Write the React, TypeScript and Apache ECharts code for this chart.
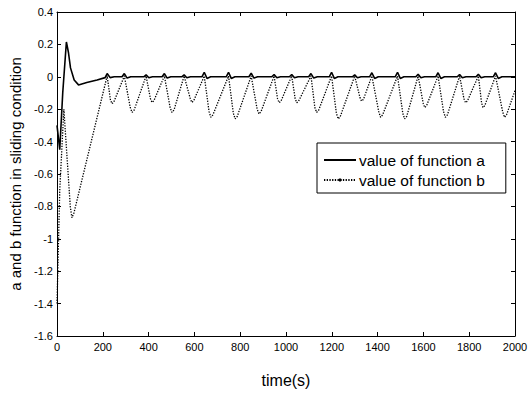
import React, { useEffect, useRef } from "react";
import * as echarts from "echarts";

const xTicks = [0, 200, 400, 600, 800, 1000, 1200, 1400, 1600, 1800, 2000];
const yTickLabels = ["-1.6", "-1.4", "-1.2", "-1", "-0.8", "-0.6", "-0.4", "-0.2", "0", "0.2", "0.4"];

const seriesNames = ["value of function a", "value of function b"];

const aTime = [
  0, 12, 25, 41, 50, 59, 75, 94, 130, 175, 210, 219, 232, 250,
  284, 294, 306, 322,
  379, 389, 401, 417,
  459, 469, 481, 497,
  545, 555, 567, 583,
  633, 643, 655, 671,
  739, 749, 761, 777,
  838, 848, 860, 876,
  938, 948, 960, 976,
  1015, 1025, 1037, 1053,
  1099, 1109, 1121, 1137,
  1189, 1199, 1211, 1227,
  1290, 1300, 1312, 1328,
  1365, 1375, 1387, 1403,
  1477, 1487, 1499, 1515,
  1567, 1577, 1589, 1605,
  1654, 1664, 1676, 1692,
  1748, 1758, 1770, 1786,
  1830, 1840, 1852, 1868,
  1905, 1915, 1927, 1943,
  2000,
];
const aVal = [
  -0.3, -0.45, -0.1, 0.215, 0.15, 0.055, -0.02, -0.05, -0.035, -0.02, -0.005, 0.02, -0.005, 0,
  0, 0.02, -0.008, 0,
  0, 0.012, -0.006, 0,
  0, 0.02, -0.008, 0,
  0, 0.012, -0.006, 0,
  0, 0.028, -0.01, 0,
  0, 0.028, -0.01, 0,
  0, 0.022, -0.008, 0,
  0, 0.014, -0.006, 0,
  0, 0.014, -0.006, 0,
  0, 0.02, -0.008, 0,
  0, 0.028, -0.01, 0,
  0, 0.012, -0.006, 0,
  0, 0.025, -0.01, 0,
  0, 0.028, -0.01, 0,
  0, 0.016, -0.006, 0,
  0, 0.025, -0.01, 0,
  0, 0.014, -0.006, 0,
  0, 0.016, -0.006, 0,
  0, 0.025, -0.01, 0,
  0,
];

const bTime = [
  0, 12, 30, 58, 65, 74,
  219, 233, 240, 248,
  294, 320, 328, 337,
  389, 408, 415, 423,
  469, 494, 502, 511,
  555, 582, 589, 597,
  643, 664, 672, 681,
  749, 770, 778, 787,
  848, 874, 882, 891,
  948, 963, 970, 978,
  1025, 1040, 1047, 1055,
  1109, 1126, 1134, 1143,
  1199, 1220, 1228, 1237,
  1300, 1323, 1330, 1338,
  1375, 1405, 1413, 1422,
  1487, 1510, 1518, 1527,
  1577, 1599, 1606, 1614,
  1664, 1688, 1696, 1705,
  1758, 1777, 1784, 1792,
  1840, 1854, 1860, 1868,
  1915, 1946, 1954, 1963,
  2000,
];
const bVal = [
  -1.4, -0.7, -0.2, -0.8, -0.87, -0.84,
  0.005, -0.14, -0.166, -0.155,
  0.005, -0.19, -0.22, -0.205,
  0.005, -0.135, -0.158, -0.148,
  0.005, -0.19, -0.22, -0.205,
  0.005, -0.135, -0.158, -0.148,
  0.005, -0.215, -0.25, -0.235,
  0.005, -0.225, -0.26, -0.245,
  0.005, -0.2, -0.23, -0.215,
  0.005, -0.135, -0.16, -0.15,
  0.005, -0.135, -0.16, -0.15,
  0.005, -0.19, -0.22, -0.205,
  0.005, -0.225, -0.26, -0.245,
  0.005, -0.128, -0.15, -0.14,
  0.005, -0.215, -0.25, -0.235,
  0.005, -0.225, -0.26, -0.245,
  0.005, -0.163, -0.19, -0.178,
  0.005, -0.215, -0.25, -0.235,
  0.005, -0.135, -0.16, -0.15,
  0.005, -0.16, -0.19, -0.178,
  0.005, -0.215, -0.25, -0.235,
  -0.085,
];

const FONT = "Liberation Sans, Arial, Helvetica, sans-serif";

export default function App() {
  const ref = useRef<HTMLDivElement>(null);
  useEffect(() => {
    if (!ref.current) return;
    const chart = echarts.init(ref.current, undefined, { renderer: "svg" });
    const aData = aTime.map((t, i) => [t, aVal[i]]);
    const bData = bTime.map((t, i) => [t, bVal[i]]);
    const axisCommon = {
      axisLine: { show: true, onZero: false, lineStyle: { color: "#000", width: 1 } },
      axisTick: { show: true, inside: true, length: 4, lineStyle: { color: "#000" } },
      splitLine: { show: false },
    };
    chart.setOption({
      animation: false,
      backgroundColor: "#fff",
      grid: { left: 57, right: 16, top: 12, bottom: 55, containLabel: false },
      legend: {
        orient: "vertical",
        left: 317,
        top: 143,
        padding: [9, 21, 5, 6],
        itemGap: 4,
        itemWidth: 32,
        itemHeight: 4,
        backgroundColor: "#fff",
        borderColor: "#000",
        borderWidth: 1,
        borderRadius: 0,
        textStyle: { fontFamily: FONT, fontSize: 15.5, color: "#000", padding: [0, 0, 0, -2] },
        data: [
          { name: seriesNames[0], itemStyle: { opacity: 0 } },
          { name: seriesNames[1] },
        ],
      },
      xAxis: [
        {
          type: "value",
          min: 0,
          max: 2000,
          interval: 200,
          position: "bottom",
          name: "time(s)",
          nameLocation: "middle",
          nameGap: 36,
          nameTextStyle: { fontFamily: FONT, fontSize: 16, color: "#000" },
          axisLabel: {
            fontFamily: FONT,
            fontSize: 11,
            color: "#000",
            margin: 5,
            formatter: (v: number) => (xTicks.includes(v) ? String(v) : ""),
          },
          ...axisCommon,
        },
        {
          type: "value",
          min: 0,
          max: 2000,
          interval: 200,
          position: "top",
          axisLabel: { show: false },
          ...axisCommon,
        },
      ],
      yAxis: [
        {
          type: "value",
          min: -1.6,
          max: 0.4,
          interval: 0.2,
          position: "left",
          name: "a and b function in sliding condition",
          nameLocation: "middle",
          nameGap: 29,
          nameTextStyle: { fontFamily: FONT, fontSize: 15, color: "#000" },
          axisLabel: {
            fontFamily: FONT,
            fontSize: 11,
            color: "#000",
            margin: 4,
            formatter: (v: number) => {
              const idx = Math.round((v + 1.6) / 0.2);
              return yTickLabels[idx] ?? "";
            },
          },
          ...axisCommon,
        },
        {
          type: "value",
          min: -1.6,
          max: 0.4,
          interval: 0.2,
          position: "right",
          axisLabel: { show: false },
          ...axisCommon,
        },
      ],
      series: [
        {
          name: seriesNames[0],
          type: "line",
          data: aData,
          symbol: "none",
          lineStyle: { color: "#000", width: 1.6, type: "solid" },
          itemStyle: { color: "#000" },
          z: 3,
        },
        {
          name: seriesNames[1],
          type: "line",
          data: bData,
          symbol: "circle",
          symbolSize: 4,
          showSymbol: false,
          lineStyle: { color: "#000", width: 1.3, type: [1.3, 1.4] },
          itemStyle: { color: "#000" },
          z: 2,
        },
      ],
    });
    return () => chart.dispose();
  }, []);
  return (
    <div
      ref={ref}
      style={{ position: "fixed", left: 0, top: 0, width: 531, height: 393, background: "#fff" }}
    />
  );
}
